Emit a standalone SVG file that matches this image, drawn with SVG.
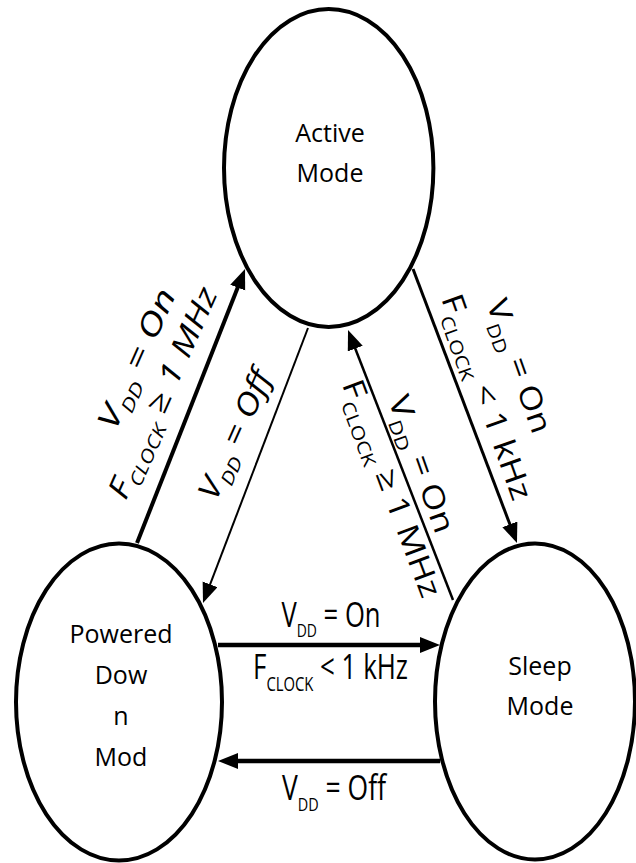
<svg xmlns="http://www.w3.org/2000/svg" width="636" height="863" viewBox="0 0 636 863">
<style>
.node ellipse { fill:#fff; stroke:#000; stroke-width:4; }
.nt { font-family:"Open Sans","DejaVu Sans",sans-serif; font-size:25px; text-anchor:middle; fill:#000; }
.lbl { font-family:"Open Sans","DejaVu Sans",sans-serif; text-anchor:middle; fill:#000; }
.h { font-size:35px; }
.r { font-size:30px; }
.it { font-style:italic; }
.conn line { stroke:#000; fill:none; }
</style>
<defs>
<marker id="ah" markerUnits="userSpaceOnUse" markerWidth="22" markerHeight="18" refX="6" refY="8" orient="auto">
<path d="M0,0 L20,8 L0,16 z" fill="#000"/>
</marker>
</defs>
<rect width="636" height="863" fill="#fff"/>
<g id="active" class="node">
<ellipse cx="328.7" cy="168" rx="104.7" ry="159"/>
<text class="nt" x="330" y="142">Active</text>
<text class="nt" x="330" y="182">Mode</text>
</g>
<g id="powered-down" class="node">
<ellipse cx="119" cy="702" rx="103" ry="158.5"/>
<text class="nt" x="121" y="643">Powered</text>
<text class="nt" x="121" y="684">Dow</text>
<text class="nt" x="121" y="725">n</text>
<text class="nt" x="121" y="766">Mod</text>
</g>
<g id="sleep" class="node">
<ellipse cx="535" cy="701.5" rx="100" ry="158"/>
<text class="nt" x="540" y="675">Sleep</text>
<text class="nt" x="540" y="715">Mode</text>
</g>
<g id="connectors" class="conn">
<line x1="137" y1="543" x2="239.9" y2="282" stroke-width="4" marker-end="url(#ah)"/>
<line x1="308" y1="328" x2="208" y2="589.9" stroke-width="2" marker-end="url(#ah)"/>
<line x1="413" y1="269" x2="512" y2="529.9" stroke-width="3" marker-end="url(#ah)"/>
<line x1="453" y1="600" x2="353.1" y2="343" stroke-width="2.5" marker-end="url(#ah)"/>
<line x1="218" y1="645" x2="426" y2="645" stroke-width="4.5" marker-end="url(#ah)"/>
<line x1="440" y1="761" x2="232" y2="761" stroke-width="4.5" marker-end="url(#ah)"/>
</g>
<g id="labels">
<text class="lbl h" transform="translate(331,627)" textLength="99" lengthAdjust="spacingAndGlyphs">V<tspan font-size="19" dy="10">DD</tspan><tspan dy="-10"> = On</tspan></text>
<text class="lbl h" transform="translate(330.5,679)" textLength="155" lengthAdjust="spacingAndGlyphs">F<tspan font-size="20" dy="12">CLOCK</tspan><tspan dy="-12"> &lt; 1 kHz</tspan></text>
<text class="lbl h" transform="translate(334,800)" textLength="104" lengthAdjust="spacingAndGlyphs">V<tspan font-size="19" dy="11">DD</tspan><tspan dy="-11"> = Off</tspan></text>
<text class="lbl r it" transform="translate(146,363) rotate(-66)" textLength="150" lengthAdjust="spacingAndGlyphs">V<tspan font-size="18" dy="8">DD</tspan><tspan dy="-8"> = On</tspan></text>
<text class="lbl r it" transform="translate(172,397) rotate(-66)" textLength="228" lengthAdjust="spacingAndGlyphs">F<tspan font-size="18" dy="8">CLOCK</tspan><tspan dy="-8"> ≥ 1 MHz</tspan></text>
<text class="lbl r it" transform="translate(244,439) rotate(-66)" textLength="138" lengthAdjust="spacingAndGlyphs">V<tspan font-size="18" dy="8">DD</tspan><tspan dy="-8"> = Off</tspan></text>
<text class="lbl r" transform="translate(509.6,369.6) rotate(70.5)" textLength="140" lengthAdjust="spacingAndGlyphs">V<tspan font-size="18" dy="8">DD</tspan><tspan dy="-8"> = On</tspan></text>
<text class="lbl r" transform="translate(477.1,400.3) rotate(70.5)" textLength="216" lengthAdjust="spacingAndGlyphs">F<tspan font-size="18" dy="8">CLOCK</tspan><tspan dy="-8"> &lt; 1 kHz</tspan></text>
<text class="lbl r" transform="translate(412,467.5) rotate(70.5)" textLength="144" lengthAdjust="spacingAndGlyphs">V<tspan font-size="18" dy="8">DD</tspan><tspan dy="-8"> = On</tspan></text>
<text class="lbl r" transform="translate(382,492) rotate(69.5)" textLength="230" lengthAdjust="spacingAndGlyphs">F<tspan font-size="18" dy="8">CLOCK</tspan><tspan dy="-8"> ≥ 1 MHz</tspan></text>
</g>
</svg>
